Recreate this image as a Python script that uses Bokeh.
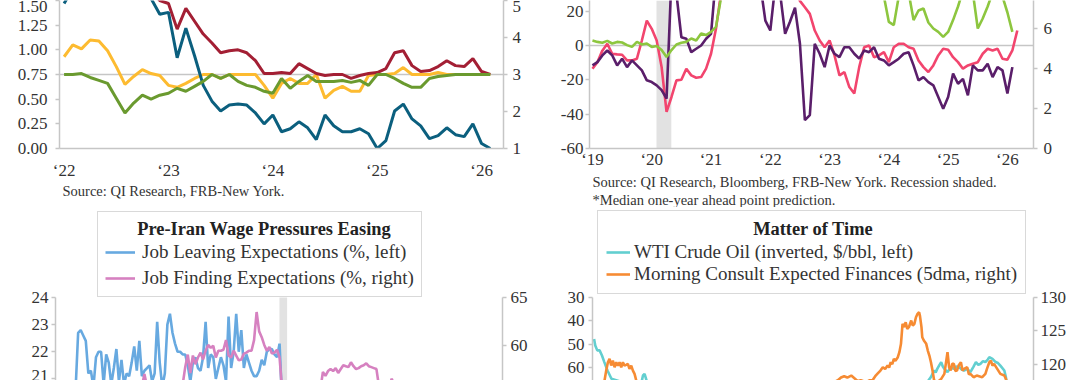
from bokeh.plotting import figure
from bokeh.models import (Range1d, LinearAxis, FixedTicker, Span, BoxAnnotation,
                          Legend, LegendItem, Title, NumeralTickFormatter)
from bokeh.layouts import column, row
from bokeh.embed import file_html
from bokeh.resources import INLINE

SERIF = "Liberation Serif"
TXT = "#333333"
GRAY = "#c6c6c6"
NBSP = "\u00a0"

# ---------------- Top-left panel (monthly, from Jan 2022) ----------------
tl_start = 2022.0
tl_teal = [1.47, 1.62, 1.75, 1.90, 2.05, 2.10, 2.00, 1.95, 1.85, 1.70,
           1.52, 1.36, 1.38, 0.92, 1.22, 0.94, 0.64, 0.48, 0.38, 0.44,
           0.45, 0.44, 0.36, 0.25, 0.34, 0.17, 0.20, 0.27, 0.21, 0.09,
           0.34, 0.23, 0.17, 0.17, 0.20, 0.15, 0.00, 0.08, 0.38, 0.45,
           0.30, 0.23, 0.10, 0.13, 0.21, 0.14, 0.12, 0.25, 0.05, 0.00]
tl_red = [1.90, 2.00, 2.10, 2.20, 2.30, 2.25, 2.15, 2.05, 1.95, 1.80,
          1.60, 1.50, 1.47, 1.21, 1.42, 1.29, 1.16, 1.07, 0.97, 0.99,
          1.00, 0.97, 0.89, 0.76, 0.76, 0.77, 0.76, 0.86, 0.81, 0.76,
          0.74, 0.75, 0.75, 0.71, 0.74, 0.76, 0.77, 0.81, 0.97, 0.99,
          0.84, 0.78, 0.79, 0.83, 0.89, 0.84, 0.83, 0.91, 0.78, 0.75]
tl_yellow = [0.93, 1.05, 1.01, 1.10, 1.09, 0.99, 0.83, 0.65, 0.73, 0.80,
             0.76, 0.74, 0.64, 0.62, 0.66, 0.71, 0.75, 0.75, 0.71, 0.75,
             0.75, 0.75, 0.75, 0.64, 0.51, 0.66, 0.71, 0.66, 0.66, 0.75,
             0.51, 0.59, 0.63, 0.58, 0.58, 0.74, 0.75, 0.75, 0.76, 0.82,
             0.75, 0.75, 0.75, 0.77, 0.75, 0.75, 0.75, 0.75, 0.75, 0.75]
tl_green = [0.75, 0.75, 0.76, 0.72, 0.69, 0.66, 0.51, 0.36, 0.46, 0.54,
            0.50, 0.54, 0.56, 0.61, 0.58, 0.63, 0.68, 0.75, 0.71, 0.75,
            0.68, 0.64, 0.62, 0.58, 0.56, 0.71, 0.61, 0.68, 0.74, 0.68,
            0.68, 0.68, 0.69, 0.67, 0.69, 0.64, 0.75, 0.75, 0.71, 0.66,
            0.62, 0.62, 0.71, 0.73, 0.74, 0.75, 0.75, 0.75, 0.75, 0.75]
tl_years = [2022, 2023, 2024, 2025, 2026]
tl_year_labels = ["\u201822", "\u201823", "\u201824", "\u201825", "\u201826"]
tl_left_ticks = [0.0, 0.25, 0.5, 0.75, 1.0, 1.25, 1.5]
tl_right_ticks = [1, 2, 3, 4, 5]
tl_source = "Source: QI Research, FRB-New York."

# ---------------- Top-right panel (monthly, from Jan 2019) ----------------
tr_start = 2019.0
tr_purple = [-11.6, -9.7, -5.8, -2.9, -5.8, -11.6, -7.7, -12.6, -8.7, -11.6, -14.5, -20.3,
             -21.3, -23.2, -26.0, -31.0, 40.0, 30.0, 4.8, 3.9, -3.9, -1.9, 0.0, 3.9,
             6.8, 40.0, 45.0, 45.0, 45.0, 45.0, 45.0, 45.0, 45.0, 40.0, 35.0, 14.5,
             8.7, 35.0, 30.0, 6.8, 14.0, 22.0, 1.0, -43.5, -40.6, 1.0, -4.8, -12.6,
             0.0, -4.8, -6.8, -1.0, -1.0, -4.8, -7.7, -2.9, -3.9, -1.0, -7.7, -8.7,
             -11.6, -9.7, -7.7, -4.8, -3.9, -11.6, -20.3, -18.4, -21.3, -23.2, -30.0, -36.8,
             -30.0, -16.4, -22.3, -19.4, -29.0, -11.6, -14.5, -14.5, -10.6, -18.4, -12.6, -14.5,
             -28.0, -12.6]
tr_pink = [-13.5, -9.7, -3.0, 1.0, -4.8, -5.2, -5.4, -8.7, -8.7, -7.7, 2.9, 14.5,
           9.7, 2.9, -12.6, -38.7, -30.0, -20.3, -20.0, -13.5, -17.4, -18.8, -18.4, -13.5,
           -4.8, 9.7, 30.0, 40.0, 45.0, 45.0, 45.0, 45.0, 45.0, 45.0, 45.0, 45.0,
           45.0, 45.0, 45.0, 42.0, 38.0, 32.0, 26.0, 22.3, 18.4, 8.7, 2.9, -1.0,
           2.9, -5.8, -17.4, -15.5, -24.2, -28.0, -12.6, -1.0, 0.0, -6.8, -5.8, -3.9,
           -9.7, -1.0, 1.0, 1.0, -1.0, -1.9, -8.7, -12.6, -15.5, -11.6, -5.8, -1.9,
           -2.5, -6.8, -9.7, -13.5, -11.6, -10.6, -9.7, -4.8, -1.9, -2.9, -1.9, -7.7,
           -8.3, -2.9, 8.7]
tr_green = [5.40, 5.33, 5.29, 5.38, 5.25, 5.33, 5.30, 5.17, 5.08, 5.33, 5.20, 5.25,
            5.08, 5.13, 4.92, 4.58, 4.92, 5.20, 5.29, 5.33, 5.50, 5.40, 5.75, 5.67,
            5.83, 6.08, 7.50, 8.00, 8.50, 9.00, 9.50, 9.50, 9.50, 9.50, 9.50, 9.50,
            9.50, 9.50, 9.50, 9.50, 9.50, 9.50, 9.50, 9.50, 9.50, 9.00, 8.50, 8.00,
            8.00, 8.00, 8.00, 8.00, 8.00, 8.00, 8.00, 8.20, 8.20, 8.00, 7.90, 7.60,
            6.33, 6.17, 7.60, 8.00, 7.80, 6.42, 6.90, 7.00, 6.30, 6.00, 5.83, 5.58,
            5.83, 6.42, 7.10, 7.90, 8.00, 7.80, 6.00, 6.50, 7.10, 7.80, 8.00, 7.60,
            6.80, 5.83]
tr_years = [2019, 2020, 2021, 2022, 2023, 2024, 2025, 2026]
tr_year_labels = ["\u201819", "\u201820", "\u201821", "\u201822", "\u201823", "\u201824", "\u201825", "\u201826"]
tr_left_ticks = [-60, -40, -20, 0, 20]
tr_right_ticks = [0, 2, 4, 6]
recession = (2020.08, 2020.33)
tr_source1 = "Source: QI Research, Bloomberg, FRB-New York. Recession shaded."
tr_source2 = "*Median one-year ahead point prediction."

# ---------------- Bottom-left panel (monthly index from Jun 2013) ----------------
bl_start = 2013 + 5 / 12
bl_leave = [20.6, 22.7, 22.8, 22.6, 22.4, 21.2, 21.3, 20.7, 21.8, 22.0,
            22.0, 20.8, 21.9, 21.6, 20.8, 21.4, 22.1, 20.9, 21.7, 20.8,
            21.2, 21.1, 21.6, 22.2, 21.3, 22.4, 21.1, 21.3, 21.4, 21.5,
            20.9, 21.2, 23.1, 21.6, 20.7, 21.2, 23.0, 23.4, 22.7, 22.3,
            22.0, 22.0, 21.9, 21.9, 21.5, 20.9, 21.6, 21.8, 21.4, 21.3,
            21.8, 23.1, 21.4, 21.9, 21.8, 21.0, 21.4, 21.8, 21.5, 20.9,
            23.3, 21.4, 22.0, 23.4, 22.0, 22.8, 21.4, 21.9, 21.6, 21.3,
            21.1, 21.1, 21.3, 21.7, 21.5, 22.0, 22.1, 22.1, 21.9, 21.8,
            22.3, 20.2]
bl_find_idx = [0, 10, 20, 26, 27, 28, 35, 42,
               43, 44, 45, 46, 47, 48, 49, 50, 51, 52, 53, 54, 55, 56, 57, 58, 59, 60,
               61, 62, 63, 64, 65, 66, 67, 68, 69, 70, 71, 72, 73, 74, 75, 76, 77, 78,
               79, 80, 81,
               96, 97, 98, 99, 100, 101, 102, 103, 104, 105, 106, 107, 108, 109, 110,
               111, 112, 113, 114, 115, 116, 117, 118, 119, 123, 124, 125, 153]
bl_find = [53.0, 54.0, 55.0, 55.8, 57.1, 55.8, 55.5, 56.0,
           57.8, 59.1, 57.2, 59.0, 58.1, 58.8, 59.3, 58.6, 59.5, 60.1, 59.8, 60.0, 58.8, 59.5, 59.5, 59.6, 60.6, 59.0,
           58.8, 59.5, 59.0, 58.5, 58.6, 59.2, 59.3, 59.5, 59.5, 60.6, 63.5, 61.5, 60.9, 60.1, 59.5, 59.9, 59.2, 59.3,
           59.6, 58.8, 55.5,
           55.5, 57.3, 56.9, 57.4, 57.6, 57.4, 57.7, 57.2, 57.6, 58.0, 57.9, 57.8, 58.3, 57.9, 57.6,
           57.7, 57.9, 58.0, 58.2, 57.9, 57.8, 57.7, 57.6, 55.8, 55.9, 56.6, 55.9, 53.5]
bl_left_ticks = [21, 22, 23, 24]
bl_right_ticks = [55, 60, 65]
bl_title = "Pre-Iran Wage Pressures Easing"
bl_labels = ["Job Leaving Expectations (%, left)", "Job Finding Expectations (%, right)"]

# ---------------- Bottom-right panel (daily, decimal years) ----------------
wti_t = [2021.01, 2021.025, 2021.05, 2021.08, 2021.11, 2021.14, 2021.18, 2021.23, 2021.35, 2021.50,
         2021.60, 2021.63, 2021.65, 2021.68, 2021.80, 2022.00, 2022.20, 2022.45, 2022.70, 2022.90,
         2023.20, 2023.45, 2023.70, 2023.95, 2024.30, 2024.60, 2024.80, 2025.00, 2025.15, 2025.28,
         2025.32, 2025.34, 2025.36, 2025.385, 2025.41, 2025.43, 2025.45, 2025.49, 2025.53, 2025.57,
         2025.60, 2025.64, 2025.67, 2025.70, 2025.74, 2025.78, 2025.82, 2025.85, 2025.88, 2025.91,
         2025.94, 2025.97, 2026.00, 2026.02, 2026.06, 2026.10, 2026.13, 2026.16, 2026.21, 2026.23, 2026.27]
wti_v = [47.7, 50.5, 52.6, 52.6, 54.8, 57.6, 61.2, 64.7, 66.0, 71.0,
         68.0, 63.3, 62.6, 66.0, 75.0, 80.0, 100.0, 110.0, 88.0, 78.0,
         72.0, 70.0, 88.0, 72.0, 84.0, 78.0, 70.0, 74.0, 70.0, 64.0,
         61.2, 62.0, 60.5, 59.0, 57.6, 59.5, 60.5, 61.9, 59.8, 60.5,
         59.5, 59.8, 60.8, 61.2, 60.5, 61.9, 59.5, 57.6, 58.8, 58.3,
         57.2, 57.6, 56.5, 55.5, 56.2, 57.6, 58.0, 59.1, 61.2, 64.0, 75.0]
mc_t = [2021.00, 2021.07, 2021.122,
        2021.143, 2021.164, 2021.185, 2021.206, 2021.227, 2021.248, 2021.270, 2021.291, 2021.312, 2021.333,
        2021.354, 2021.375, 2021.396, 2021.417, 2021.438, 2021.459, 2021.481, 2021.502, 2021.523, 2021.544,
        2021.60, 2021.80, 2022.10, 2022.50, 2022.90, 2023.30, 2023.70, 2024.00,
        2024.05, 2024.10, 2024.14, 2024.18, 2024.22, 2024.27, 2024.31, 2024.35, 2024.39, 2024.46,
        2024.50, 2024.54, 2024.58, 2024.60, 2024.64, 2024.67, 2024.70, 2024.73, 2024.75, 2024.77,
        2024.79, 2024.81, 2024.83, 2024.86, 2024.88, 2024.90, 2024.92, 2024.94, 2024.96, 2024.98,
        2025.00, 2025.03, 2025.05, 2025.07, 2025.09, 2025.11, 2025.13, 2025.14, 2025.16, 2025.17,
        2025.19, 2025.22, 2025.24, 2025.26, 2025.28, 2025.30, 2025.32, 2025.36, 2025.41, 2025.45,
        2025.49, 2025.51, 2025.53, 2025.55, 2025.57, 2025.59, 2025.61, 2025.63, 2025.66, 2025.68,
        2025.70, 2025.74, 2025.76, 2025.78, 2025.82, 2025.86, 2025.93, 2025.97, 2025.99, 2026.02,
        2026.04, 2026.06, 2026.08, 2026.12, 2026.16, 2026.21, 2026.23, 2026.25]
mc_v = [114.5, 116.0, 116.5,
        117.6, 119.05, 120.3, 120.8, 119.8, 120.55, 119.55, 120.3, 119.8, 120.3,
        119.55, 120.3, 119.8, 119.9, 120.05, 119.3, 119.8, 119.05, 118.55, 117.6,
        115.0, 112.0, 110.0, 106.0, 109.0, 111.0, 112.0, 116.0,
        117.3, 117.6, 118.0, 118.2, 118.0, 118.3, 117.9, 117.5, 117.6, 117.3,
        117.6, 117.6, 118.3, 118.55, 119.05, 119.55, 119.3, 119.8, 119.5, 120.3,
        120.0, 120.8, 120.5, 121.05, 121.8, 123.05, 126.05, 125.55, 126.3, 125.3,
        125.55, 126.55, 125.8, 126.05, 127.05, 127.55, 127.8, 127.3, 125.55, 124.05,
        123.55, 123.05, 122.05, 121.3, 120.3, 119.05, 117.6, 117.3, 117.8, 118.55,
        121.8, 119.55, 119.05, 120.05, 120.05, 119.0, 119.05, 119.8, 120.3, 119.05,
        119.3, 119.55, 118.5, 118.55, 118.05, 118.3, 118.05, 118.55, 119.3, 120.3,
        120.55, 119.8, 120.05, 119.3, 118.55, 118.3, 117.8, 117.0]
br_left_ticks = [30, 40, 50, 60]
br_right_ticks = [115, 120, 125, 130]
br_title = "Matter of Time"
br_labels = ["WTI Crude Oil (inverted, $/bbl, left)", "Morning Consult Expected Finances (5dma, right)"]


def monthly(start, n):
    return [start + i / 12 for i in range(n)]


def style_axis(ax, ticks, overrides=None, tick_out=4, standoff=6):
    ax.ticker = FixedTicker(ticks=ticks)
    if overrides:
        ax.major_label_overrides = overrides
    ax.axis_line_color = GRAY
    ax.axis_line_width = 1.5
    ax.major_tick_line_color = GRAY
    ax.major_tick_line_width = 1.5
    ax.major_tick_out = tick_out
    ax.major_tick_in = 0
    ax.minor_tick_line_color = None
    ax.major_label_text_font = SERIF
    ax.major_label_text_font_size = "17px"
    ax.major_label_text_color = TXT
    ax.major_label_standoff = standoff


def make_fig(w, h, xr, yr, bl, br, bt, bb, xaxis=True):
    p = figure(width=w, height=h, x_range=xr, y_range=yr, output_backend="svg",
               toolbar_location=None, min_border_left=bl, min_border_right=br,
               min_border_top=bt, min_border_bottom=bb,
               x_axis_location="below" if xaxis else None)
    p.outline_line_color = None
    p.xgrid.visible = False
    p.ygrid.visible = False
    return p


def source_title(p, text, standoff=0):
    t = Title(text=text, align="left", offset=3, standoff=standoff, text_font=SERIF,
              text_font_size="14.5px", text_font_style="normal", text_color=TXT)
    p.add_layout(t, "below")


def make_legend(title, indent, items, loc, spacing, padding, glyph_w, standoff):
    # the legend title is centred in its box by leading no-break spaces
    return Legend(items=items, title=NBSP * indent + title, location=loc, orientation="vertical",
                  margin=0, padding=padding, spacing=spacing,
                  border_line_color="#b4b4b4", border_line_width=1.5,
                  background_fill_color="white", background_fill_alpha=1.0,
                  label_text_font=SERIF, label_text_font_size="19px", label_text_color=TXT,
                  title_text_font=SERIF, title_text_font_size="18.4px", title_text_font_style="bold",
                  title_text_color="#222222", title_standoff=1,
                  glyph_width=glyph_w, glyph_height=18, label_standoff=standoff, label_height=18)


# ---------------- Top-left ----------------
tl = make_fig(540, 207, Range1d(2021.956, 2026.21), Range1d(0, 1.5), 59, 37, 0, 55)
tl.extra_y_ranges = {"right": Range1d(1, 5)}
tl.add_layout(LinearAxis(y_range_name="right"), "right")
tl.add_layout(Span(location=0.75, dimension="width", line_color=GRAY, line_width=1.5, level="underlay"))
x_tl = monthly(tl_start, len(tl_teal))
tl.line(x_tl, tl_yellow, line_color="#fdbb30", line_width=3)
tl.line(x_tl, tl_red, line_color="#a31f34", line_width=3)
tl.line(x_tl, tl_teal, line_color="#0b5f7e", line_width=3)
tl.line(x_tl, tl_green, line_color="#6a9a2f", line_width=3)
style_axis(tl.xaxis[0], tl_years, dict(zip(tl_years, tl_year_labels)), tick_out=0, standoff=12)
tl.xaxis[0].axis_label_standoff = -5
style_axis(tl.yaxis[0], tl_left_ticks, standoff=8)
tl.yaxis[0].formatter = NumeralTickFormatter(format="0.00")
style_axis(tl.yaxis[1], tl_right_ticks, standoff=5)
source_title(tl, tl_source, standoff=-4)

# ---------------- Top-right ----------------
tr = make_fig(540, 207, Range1d(2018.95, 2026.44), Range1d(-60, 26.2), 49, 47, 0, 59)
tr.extra_y_ranges = {"right": Range1d(0, 7.4)}
tr.add_layout(LinearAxis(y_range_name="right"), "right")
tr.add_layout(BoxAnnotation(left=recession[0], right=recession[1], fill_color="#e2e2e2",
                            fill_alpha=1.0, line_color=None, level="underlay"))
tr.add_layout(Span(location=0, dimension="width", line_color=GRAY, line_width=1.5, level="underlay"))
tr.line(monthly(tr_start, len(tr_pink)), tr_pink, line_color="#f2456e", line_width=2.6)
tr.line(monthly(tr_start, len(tr_purple)), tr_purple, line_color="#5a1e6a", line_width=2.6)
tr.line(monthly(tr_start, len(tr_green)), tr_green, line_color="#8dc63f", line_width=2.6,
        y_range_name="right")
style_axis(tr.xaxis[0], tr_years, dict(zip(tr_years, tr_year_labels)), tick_out=0, standoff=1)
style_axis(tr.yaxis[0], tr_left_ticks, {t: str(t) for t in tr_left_ticks}, standoff=2)
style_axis(tr.yaxis[1], tr_right_ticks, standoff=6)
source_title(tr, tr_source1)
source_title(tr, tr_source2)

# ---------------- Bottom-left (frame runs up to the top of the row; axes bounded) ----------------
bl = make_fig(540, 173, Range1d(2012.76, 2027.37), Range1d(20.94, 27.32), 55, 38, 0, 0, xaxis=False)
bl.extra_y_ranges = {"right": Range1d(56.42, 74.31)}
bl.add_layout(LinearAxis(y_range_name="right"), "right")
bl.add_layout(BoxAnnotation(left=recession[0], right=recession[1], top=24, fill_color="#e2e2e2",
                            fill_alpha=1.0, line_color=None, level="underlay"))
r_leave = bl.line(monthly(bl_start, len(bl_leave)), bl_leave, line_color="#67a9e0", line_width=2.6)
r_find = bl.line([bl_start + i / 12 for i in bl_find_idx], bl_find, line_color="#d681c0",
                 line_width=2.6, y_range_name="right")
style_axis(bl.yaxis[0], bl_left_ticks, standoff=3)
bl.yaxis[0].bounds = (20.0, 24)
style_axis(bl.yaxis[1], bl_right_ticks, standoff=4)
bl.yaxis[1].bounds = (50.0, 65)
bl.add_layout(make_legend(bl_title, 7, [LegendItem(label=bl_labels[0], renderers=[r_leave]),
                                        LegendItem(label=bl_labels[1], renderers=[r_find])],
                          (42, 83), 4, 7, 30, 7))

# ---------------- Bottom-right ----------------
br = make_fig(540, 173, Range1d(2020.99, 2026.58), Range1d(65.47, -8.46), 52, 47, 0, 0, xaxis=False)
br.extra_y_ranges = {"right": Range1d(117.56, 143.49)}
br.add_layout(LinearAxis(y_range_name="right"), "right")
r_wti = br.line(wti_t, wti_v, line_color="#62cfd0", line_width=2.6)
r_mc = br.line(mc_t, mc_v, line_color="#f68b33", line_width=2.6, y_range_name="right")
style_axis(br.yaxis[0], br_left_ticks, standoff=4)
br.yaxis[0].bounds = (30, 70)
style_axis(br.yaxis[1], br_right_ticks, standoff=3)
br.yaxis[1].bounds = (110, 130)
br.add_layout(make_legend(br_title, 32, [LegendItem(label=br_labels[0], renderers=[r_wti]),
                                         LegendItem(label=br_labels[1], renderers=[r_mc])],
                          (5, 86), 0, 8, 24, 4))

layout = column(row(tl, tr), row(bl, br))
open("out.html", "w").write(file_html(layout, INLINE))
